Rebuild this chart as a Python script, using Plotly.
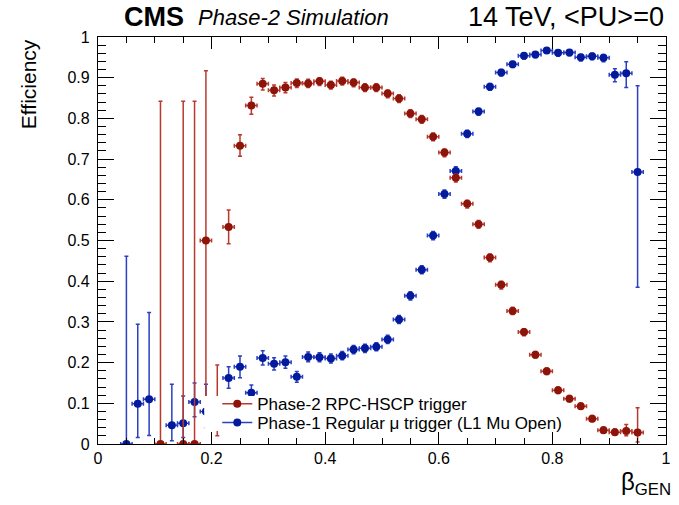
import plotly.graph_objs as go

# beta_GEN bin centres and efficiencies
rpc_beta = [0.11, 0.15, 0.17, 0.19, 0.21, 0.23, 0.25, 0.27, 0.29, 0.31, 0.33,
            0.35, 0.37, 0.39, 0.41, 0.43, 0.45, 0.47, 0.49, 0.51, 0.53, 0.55,
            0.57, 0.59, 0.61, 0.63, 0.65, 0.67, 0.69, 0.71, 0.73, 0.75, 0.77,
            0.79, 0.81, 0.83, 0.85, 0.87, 0.89, 0.91, 0.93, 0.95]
rpc_eff = [0.0, 0.0, 0.0, 0.5, 0.07, 0.533, 0.733, 0.832, 0.885, 0.869, 0.876,
           0.887, 0.886, 0.891, 0.882, 0.892, 0.888, 0.876, 0.876, 0.861, 0.849,
           0.812, 0.798, 0.755, 0.716, 0.654, 0.59, 0.54, 0.458, 0.391, 0.327,
           0.275, 0.219, 0.179, 0.132, 0.111, 0.093, 0.062, 0.034, 0.029, 0.032,
           0.028]
rpc_err_up = [0.842, 0.842, 0.842, 0.417, 0.124, 0.042, 0.027, 0.02, 0.013,
              0.013, 0.012, 0.01, 0.01, 0.009, 0.009, 0.009, 0.009, 0.009,
              0.009, 0.009, 0.009, 0.009, 0.009, 0.009, 0.009, 0.009, 0.009,
              0.009, 0.009, 0.009, 0.009, 0.008, 0.008, 0.008, 0.008, 0.008,
              0.008, 0.008, 0.008, 0.008, 0.016, 0.061]
rpc_err_down = [0.0, 0.0, 0.0, 0.417, 0.05, 0.041, 0.026, 0.022, 0.015,
                0.014, 0.013, 0.011, 0.01, 0.01, 0.01, 0.01, 0.01, 0.01,
                0.01, 0.01, 0.01, 0.01, 0.01, 0.01, 0.01, 0.01, 0.01,
                0.01, 0.01, 0.01, 0.009, 0.009, 0.008, 0.008, 0.008, 0.007,
                0.007, 0.007, 0.006, 0.006, 0.012, 0.023]

l1_beta = [0.05, 0.07, 0.09, 0.13, 0.15, 0.17, 0.19, 0.23, 0.25, 0.27, 0.29,
           0.31, 0.33, 0.35, 0.37, 0.39, 0.41, 0.43, 0.45, 0.47, 0.49, 0.51,
           0.53, 0.55, 0.57, 0.59, 0.61, 0.63, 0.65, 0.67, 0.69, 0.71, 0.73,
           0.75, 0.77, 0.79, 0.81, 0.83, 0.85, 0.87, 0.89, 0.91, 0.93, 0.95]
l1_eff = [0.0, 0.099, 0.11, 0.046, 0.051, 0.103, 0.08, 0.162, 0.19, 0.126,
          0.211, 0.197, 0.201, 0.165, 0.214, 0.213, 0.21, 0.217, 0.232, 0.235,
          0.239, 0.257, 0.306, 0.364, 0.428, 0.512, 0.614, 0.671, 0.762, 0.817,
          0.878, 0.913, 0.933, 0.954, 0.957, 0.967, 0.961, 0.962, 0.95, 0.953,
          0.949, 0.907, 0.911, 0.668]
l1_err_up = [0.461, 0.195, 0.213, 0.101, 0.067, 0.047, 0.067, 0.028, 0.026,
             0.019, 0.018, 0.015, 0.015, 0.013, 0.012, 0.011, 0.011, 0.01,
             0.01, 0.01, 0.01, 0.01, 0.01, 0.01, 0.01, 0.01, 0.01, 0.01,
             0.009, 0.008, 0.008, 0.007, 0.007, 0.006, 0.006, 0.005, 0.006,
             0.006, 0.007, 0.007, 0.008, 0.015, 0.028, 0.212]
l1_err_down = [0.0, 0.083, 0.089, 0.038, 0.035, 0.036, 0.04, 0.025, 0.027,
               0.017, 0.017, 0.015, 0.015, 0.013, 0.012, 0.011, 0.011, 0.01,
               0.01, 0.01, 0.01, 0.01, 0.01, 0.01, 0.01, 0.01, 0.01, 0.01,
               0.009, 0.009, 0.009, 0.009, 0.008, 0.008, 0.008, 0.007, 0.008,
               0.008, 0.009, 0.009, 0.01, 0.017, 0.035, 0.283]

bin_half_width = 0.01

RED = '#8c1409'
RED_ERR = '#b8392e'
BLUE = '#031a9c'
BLUE_ERR = '#2b40c2'
FONT = 'Liberation Sans, Arial, sans-serif'
CLEAR = 'rgba(255,255,255,0)'


def new_trace(x, y, up, down, color, err_color):
    return go.Scatter(
        x=x,
        y=y,
        mode='markers',
        showlegend=False,
        marker=dict(color=color, size=8, symbol='circle'),
        error_y=dict(type='data', symmetric=False, array=up, arrayminus=down,
                     color=err_color, thickness=1.5, width=2),
        error_x=dict(type='constant', value=bin_half_width,
                     color=err_color, thickness=1.5, width=2),
    )


def legend_trace(name, color, err_color, legend):
    return go.Scatter(
        x=[None],
        y=[None],
        mode='lines+markers',
        name=name,
        legend=legend,
        line=dict(color=err_color, width=1.5),
        marker=dict(color=color, size=8),
    )


def axis(**kw):
    d = dict(
        showgrid=False,
        zeroline=False,
        showline=True,
        linecolor='black',
        linewidth=1.2,
        mirror='allticks',
        ticks='inside',
        tickcolor='black',
        tickfont=dict(family=FONT, size=16, color='black'),
    )
    d.update(kw)
    return d


def legend_box(y):
    return dict(
        x=0.21, y=y, xanchor='left', yanchor='middle',
        bgcolor=CLEAR,
        font=dict(family=FONT, size=17, color='black'),
        itemwidth=30,
    )


def main():
    data = [
        new_trace(l1_beta, l1_eff, l1_err_up, l1_err_down, BLUE, BLUE_ERR),
        new_trace(rpc_beta, rpc_eff, rpc_err_up, rpc_err_down, RED, RED_ERR),
        legend_trace('Phase-2 RPC-HSCP trigger', RED, RED_ERR, 'legend'),
        legend_trace('Phase-1 Regular \u03bc trigger (L1 Mu Open)', BLUE,
                     BLUE_ERR, 'legend2'),
    ]

    layout = go.Layout(
        width=679,
        height=505,
        paper_bgcolor='white',
        plot_bgcolor='white',
        margin=dict(l=98, r=8, t=37, b=61),
        xaxis=axis(range=[0, 1], dtick=0.2, tick0=0, ticklen=12,
                   minor=dict(dtick=0.05, ticklen=6, ticks='inside',
                              tickcolor='black')),
        yaxis=axis(range=[0, 1], dtick=0.1, tick0=0, ticklen=16,
                   ticklabelstandoff=4,
                   minor=dict(dtick=0.02, ticklen=8, ticks='inside',
                              tickcolor='black')),
        # two see-through legends so the rows sit as close as in the
        # original; a white box behind them hides the points underneath
        legend=legend_box(0.098),
        legend2=legend_box(0.052),
        shapes=[
            dict(type='rect', xref='paper', yref='paper', layer='above',
                 x0=0.187, x1=0.815, y0=0.032, y1=0.118,
                 fillcolor='white', line=dict(width=0)),
        ],
        annotations=[
            dict(text='<b>CMS</b>', x=0.042, y=1.049, xref='paper',
                 yref='paper', xanchor='left', yanchor='middle',
                 showarrow=False,
                 font=dict(family=FONT, size=27, color='black')),
            dict(text='<i>Phase-2 Simulation</i>', x=0.172, y=1.049,
                 xref='paper', yref='paper', xanchor='left',
                 yanchor='middle', showarrow=False,
                 font=dict(family=FONT, size=22, color='black')),
            dict(text='14 TeV, &lt;PU&gt;=0', x=1.0, y=1.049,
                 xref='paper', yref='paper', xanchor='right',
                 yanchor='middle', showarrow=False,
                 font=dict(family=FONT, size=27, color='black')),
            dict(text='Efficiency', x=-0.123, y=1.0, xref='paper',
                 yref='paper', xanchor='center', yanchor='top', textangle=-90,
                 showarrow=False,
                 font=dict(family=FONT, size=21, color='black')),
            dict(text='\u03b2<sub>GEN</sub>', x=1.012, y=-0.054, xref='paper',
                 yref='paper', xanchor='right', yanchor='top',
                 showarrow=False,
                 font=dict(family=FONT, size=24, color='black')),
        ],
    )

    fig = go.Figure(data=data, layout=layout)
    fig.write_html('out.html', config={'displayModeBar': False},
                   post_script="document.body.style.margin='0';")


if __name__ == '__main__':
    main()
